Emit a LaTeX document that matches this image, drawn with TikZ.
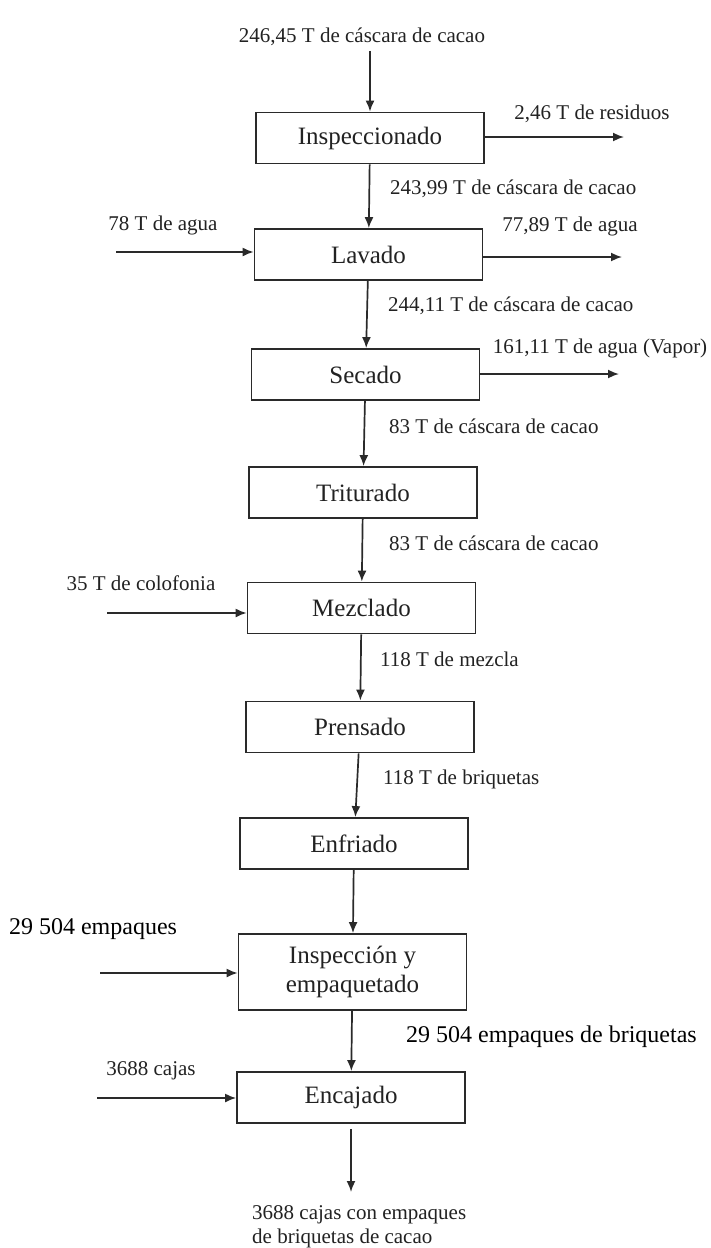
\documentclass[tikz,border=0pt]{standalone}
\usepackage{fontspec}
\setmainfont{Liberation Serif}
\usetikzlibrary{arrows.meta}
\definecolor{boxc}{HTML}{2A2A2A}
\definecolor{txtc}{HTML}{222222}
\begin{document}
\begin{tikzpicture}[x=1pt,y=-1pt,
  box/.style={draw=boxc, line width=1.8pt, minimum width=228pt, minimum height=51pt, inner sep=0pt, font=\fontsize{25}{29}\selectfont, text=txtc, align=center},
  lbl/.style={font=\fontsize{21}{24}\selectfont, text=txtc, inner sep=0pt, text height=15pt, text depth=4.5pt},
  big/.style={font=\fontsize{24}{28}\selectfont, text=black, inner sep=0pt, text height=17pt, text depth=5pt},
  arr/.style={draw=boxc, line width=1.7pt, -{Latex[length=11pt,width=9pt]}}
]
\fill[white] (0,0) rectangle (711,1248);
\useasboundingbox (0,0) rectangle (711,1248);

% process boxes
\node[box] (insp) at (370,138) {Inspeccionado};
\node[box] (lav) at (368.5,254.5) {Lavado};
\node[box] (sec) at (365.5,374.5) {Secado};
\node[box] (trit) at (363,492.5) {Triturado};
\node[box] (mez) at (361.5,608) {Mezclado};
\node[box] (pren) at (360,727) {Prensado};
\node[box] (enf) at (354,843.5) {Enfriado};
\node[box, minimum height=76pt] (ie) at (352.5,972) {Inspección y\\empaquetado};
\node[box] (enc) at (351,1097.5) {Encajado};

% top input
\node[lbl] (in0) at (362,37) {246,45 T de cáscara de cacao};
\draw[arr] ([yshift=-4pt]in0.south -| insp.north) -- (insp.north);

% main flow with labels
\draw[arr] (insp) -- (lav);
\node[lbl, anchor=west] (f1) at (390,189) {243,99 T de cáscara de cacao};
\draw[arr] (lav) -- (sec);
\node[lbl, anchor=west] (f2) at (388,306) {244,11 T de cáscara de cacao};
\draw[arr] (sec) -- (trit);
\node[lbl, anchor=west] (f3) at (389,428) {83 T de cáscara de cacao};
\draw[arr] (trit) -- (mez);
\node[lbl, anchor=west] (f4) at (389,545) {83 T de cáscara de cacao};
\draw[arr] (mez) -- (pren);
\node[lbl, anchor=west] (f5) at (380,661) {118 T de mezcla};
\draw[arr] (pren) -- (enf);
\node[lbl, anchor=west] (f6) at (383,779) {118 T de briquetas};
\draw[arr] (enf) -- (ie);
\draw[arr] (ie) -- (enc);
\node[big, anchor=west] (f7) at (406,1036) {29 504 empaques de briquetas};

% right outputs
\node[lbl] (r1) at (592,114) {2,46 T de residuos};
\coordinate (o1) at (624,137);
\draw[arr] (insp.east |- o1) -- (o1);
\node[lbl] (r2) at (570,226) {77,89 T de agua};
\coordinate (o2) at (622,257);
\draw[arr] (lav.east |- o2) -- (o2);
\node[lbl] (r3) at (600,348) {161,11 T de agua (Vapor)};
\coordinate (o3) at (619,374);
\draw[arr] (sec.east |- o3) -- (o3);

% left inputs
\node[lbl] (l1) at (163,225) {78 T de agua};
\coordinate (i1) at (116,252);
\draw[arr] (i1) -- (i1 -| lav.west);
\node[lbl] (l2) at (141,585) {35 T de colofonia};
\coordinate (i2) at (107,613);
\draw[arr] (i2) -- (i2 -| mez.west);
\node[big] (l3) at (93,928) {29 504 empaques};
\coordinate (i3) at (100,973);
\draw[arr] (i3) -- (i3 -| ie.west);
\node[lbl] (l4) at (151,1070) {3688 cajas};
\coordinate (i4) at (97,1098);
\draw[arr] (i4) -- (i4 -| enc.west);

% final output
\node[lbl, anchor=north west, align=left, text height=, text depth=] (out) at (252,1205) {3688 cajas con empaques\\de briquetas de cacao};
\draw[arr] ([yshift=-5pt]enc.south) -- ([yshift=13pt]enc.south |- out.north);
\end{tikzpicture}
\end{document}
